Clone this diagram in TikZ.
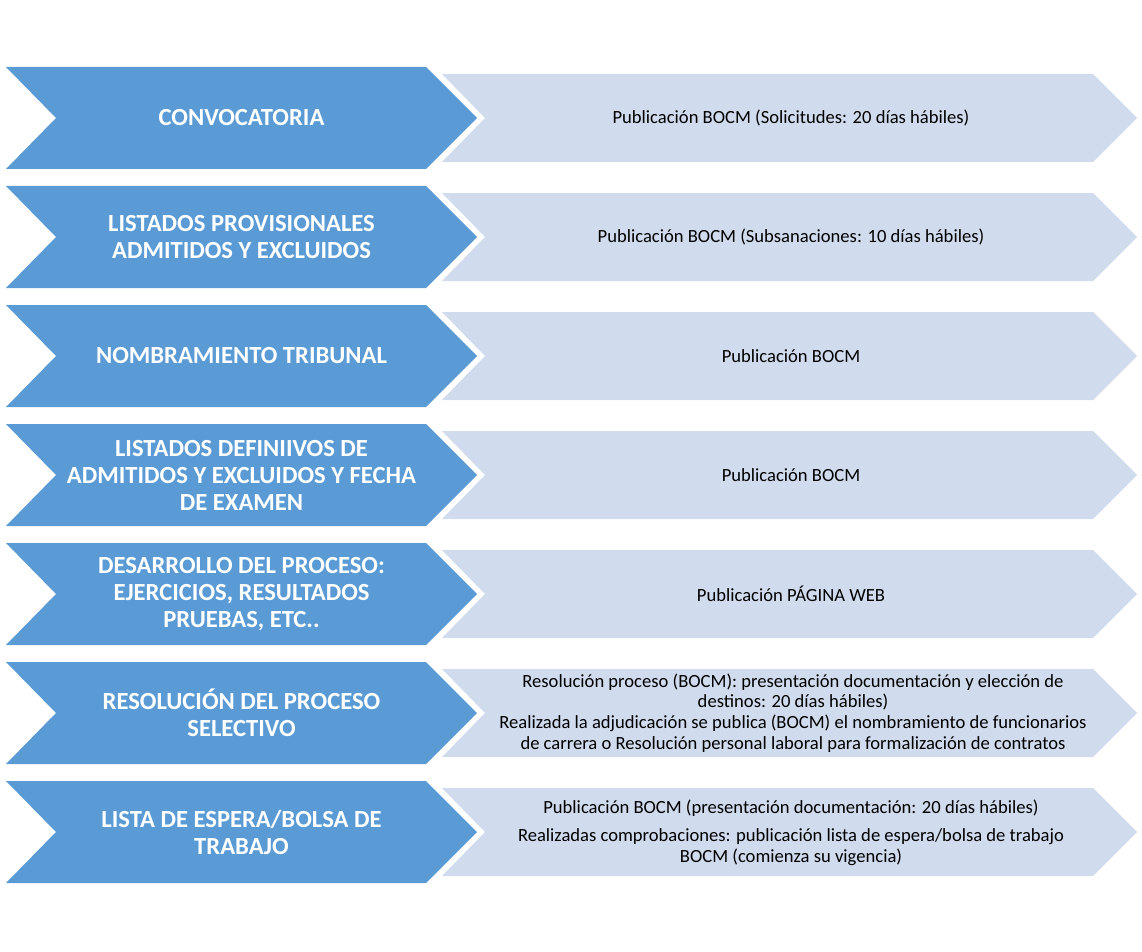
\documentclass[tikz,border=0pt]{standalone}
\usepackage{fontspec}
\setmainfont{Carlito}
\definecolor{darkb}{HTML}{5B9BD5}
\definecolor{lightb}{HTML}{D0DCEE}
\tikzset{
  darkchev/.style={fill=darkb, draw=none},
  lightchev/.style={fill=lightb, draw=none},
  lefttxt/.style={text=white, align=center, inner sep=0pt, font=\bfseries\fontsize{24.6}{27}\selectfont},
  righttxt/.style={text=black, align=center, inner sep=0pt, font=\fontsize{18.6}{20.8}\selectfont},
}
\begin{document}
\begin{tikzpicture}[x=1pt,y=-1pt]
\useasboundingbox (0,0) rectangle (1142,952);
\foreach \i in {0,...,6}{
  \pgfmathsetmacro{\t}{67+119*\i}
  \fill[lightchev] (442,\t+7) -- (1093,\t+7) -- (1137,\t+51) -- (1093,\t+95) -- (442,\t+95) -- (485,\t+51) -- cycle;
  \fill[darkchev] (6,\t) -- (426,\t) -- (477,\t+51) -- (426,\t+102) -- (6,\t+102) -- (56,\t+51) -- cycle;
}
% left texts
\node[lefttxt] (l1) at (241.5,118) {CONVOCATORIA};
\node[lefttxt] (l2) at (241.5,237) {LISTADOS PROVISIONALES\\ADMITIDOS Y EXCLUIDOS};
\node[lefttxt] (l3) at (241.5,356) {NOMBRAMIENTO TRIBUNAL};
\node[lefttxt] (l4) at (241.5,475) {LISTADOS DEFINIIVOS DE\\ADMITIDOS Y EXCLUIDOS Y FECHA\\DE EXAMEN};
\node[lefttxt] (l5) at (241.5,594) {DESARROLLO DEL PROCESO:\\EJERCICIOS, RESULTADOS\\PRUEBAS, ETC..};
\node[lefttxt] (l6) at (241.5,713) {RESOLUCIÓN DEL PROCESO\\SELECTIVO};
\node[lefttxt] (l7) at (241.5,832) {LISTA DE ESPERA/BOLSA DE\\TRABAJO};
% right texts
\node[righttxt] (r1) at (791,118) {Publicación BOCM (Solicitudes: 20 días hábiles)};
\node[righttxt] (r2) at (791,237) {Publicación BOCM (Subsanaciones: 10 días hábiles)};
\node[righttxt] (r3) at (791,356) {Publicación BOCM};
\node[righttxt] (r4) at (791,475) {Publicación BOCM};
\node[righttxt] (r5) at (791,594) {Publicación PÁGINA WEB};
\node[righttxt] (r6) at (793,713) {Resolución proceso (BOCM): presentación documentación y elección de\\destinos: 20 días hábiles)\\Realizada la adjudicación se publica (BOCM) el nombramiento de funcionarios\\de carrera o Resolución personal laboral para formalización de contratos};
\node[righttxt] (r7) at (791,833) {Publicación BOCM (presentación documentación: 20 días hábiles)\\[7pt]Realizadas comprobaciones: publicación lista de espera/bolsa de trabajo\\BOCM (comienza su vigencia)};
\end{tikzpicture}
\end{document}
